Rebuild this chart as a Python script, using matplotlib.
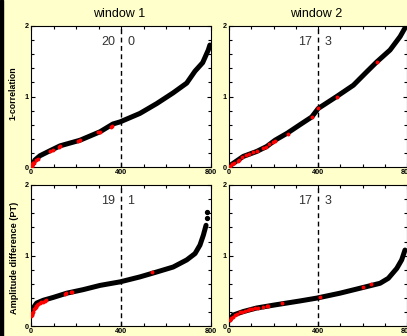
import matplotlib
matplotlib.use("Agg")
import matplotlib.pyplot as plt
from matplotlib.ticker import MultipleLocator
from matplotlib.patches import Rectangle

plt.rcParams['font.family'] = ['Liberation Sans', 'DejaVu Sans']

# curves: sample rank -> value
# window 1, 1-correlation
w1_corr_x = [3, 18, 40, 84, 129, 218, 307, 364, 396, 484, 559, 631, 692, 729, 763, 788, 795]
w1_corr_y = [0.02, 0.10, 0.16, 0.23, 0.30, 0.38, 0.50, 0.61, 0.64, 0.76, 0.90, 1.05, 1.19, 1.36, 1.48, 1.66, 1.73]
w1_corr_red_x = [1, 2, 3, 4, 6, 8, 10, 13, 24, 31, 83, 98, 123, 130, 209, 216, 298, 305, 354, 360]
w1_corr_red_y = [0.0, 0.01, 0.02, 0.03, 0.04, 0.05, 0.055, 0.06, 0.10, 0.11, 0.22, 0.24, 0.29, 0.30, 0.37, 0.38, 0.49, 0.50, 0.57, 0.58]

# window 2, 1-correlation
w2_corr_x = [4, 64, 124, 169, 207, 262, 319, 372, 401, 484, 559, 619, 664, 724, 769, 796]
w2_corr_y = [0.02, 0.15, 0.22, 0.29, 0.38, 0.48, 0.60, 0.71, 0.83, 1.00, 1.16, 1.35, 1.49, 1.66, 1.85, 2.0]
w2_corr_red_x = [4, 14, 24, 39, 45, 58, 76, 91, 106, 124, 151, 166, 181, 196, 208, 264, 372, 401, 484, 664]
w2_corr_red_y = [0.01, 0.04, 0.06, 0.09, 0.10, 0.14, 0.17, 0.19, 0.21, 0.23, 0.27, 0.29, 0.33, 0.35, 0.37, 0.47, 0.71, 0.83, 1.0, 1.49]

# window 1, amplitude difference
w1_amp_x = [3, 10, 25, 55, 99, 159, 232, 307, 396, 484, 559, 632, 692, 729, 751, 766, 778]
w1_amp_y = [0.16, 0.26, 0.33, 0.37, 0.41, 0.47, 0.52, 0.58, 0.63, 0.70, 0.77, 0.84, 0.94, 1.03, 1.15, 1.29, 1.43]
w1_amp_top_x = [781, 783]
w1_amp_top_y = [1.53, 1.62]
w1_amp_red_x = [2, 4, 6, 9, 12, 16, 20, 24, 28, 33, 39, 45, 53, 60, 68, 150, 157, 176, 182, 536]
w1_amp_red_y = [0.15, 0.16, 0.19, 0.21, 0.24, 0.26, 0.28, 0.29, 0.30, 0.32, 0.33, 0.34, 0.35, 0.36, 0.37, 0.46, 0.47, 0.48, 0.48, 0.765]

# window 2, amplitude difference
w2_amp_x = [4, 19, 64, 124, 199, 319, 394, 499, 589, 679, 716, 754, 776, 791]
w2_amp_y = [0.09, 0.16, 0.21, 0.26, 0.30, 0.36, 0.40, 0.47, 0.54, 0.61, 0.68, 0.82, 0.94, 1.08]
w2_amp_red_x = [4, 10, 19, 27, 34, 49, 60, 72, 85, 94, 105, 117, 132, 154, 169, 177, 237, 409, 604, 637]
w2_amp_red_y = [0.09, 0.12, 0.14, 0.16, 0.17, 0.20, 0.21, 0.22, 0.23, 0.24, 0.25, 0.26, 0.265, 0.28, 0.29, 0.29, 0.33, 0.41, 0.56, 0.595]

counts = [("20", "0"), ("17", "3"), ("19", "1"), ("17", "3")]
titles = ["window 1", "window 2"]
ylabels = ["1-correlation", "Amplitude difference (PT)"]

W, H = 407, 336
fig = plt.figure(figsize=(W / 100, H / 100), dpi=100)
fig.patch.set_facecolor('#ffffcc')
fig.patches.append(Rectangle((0, 0), 3 / W, 1, transform=fig.transFigure, color='black', zorder=10))

lefts = [31, 229]
widths = [180, 178]
tops = [26, 185]
heights = [141, 141.4]

panels = [
    (w1_corr_x, w1_corr_y, w1_corr_red_x, w1_corr_red_y),
    (w2_corr_x, w2_corr_y, w2_corr_red_x, w2_corr_red_y),
    (w1_amp_x, w1_amp_y, w1_amp_red_x, w1_amp_red_y),
    (w2_amp_x, w2_amp_y, w2_amp_red_x, w2_amp_red_y),
]

for i, (cx, cy, rx, ry) in enumerate(panels):
    row, col = i // 2, i % 2
    ax = fig.add_axes([lefts[col] / W, 1 - (tops[row] + heights[row]) / H,
                       widths[col] / W, heights[row] / H])
    ax.set_facecolor('white')
    ax.plot(cx, cy, color='black', lw=3.6, solid_capstyle='round', solid_joinstyle='round', zorder=2)
    if i == 2:
        ax.plot(w1_amp_top_x, w1_amp_top_y, 'o', color='black', ms=2.8, zorder=2)
    ax.plot(rx, ry, 'o', color='red', ms=2.8, mec='none', zorder=3)
    ax.axvline(400, color='black', ls=(0, (3.5, 2.5)), lw=1, zorder=1)
    ax.set_xlim(0, 800)
    ax.set_ylim(0, 2)
    ax.xaxis.set_major_locator(MultipleLocator(400))
    ax.xaxis.set_minor_locator(MultipleLocator(100))
    ax.yaxis.set_major_locator(MultipleLocator(1))
    ax.yaxis.set_minor_locator(MultipleLocator(0.2))
    ax.tick_params(which='both', direction='in', top=True, right=True, width=0.8)
    ax.tick_params(which='major', length=3, labelsize=5.2, pad=1.5)
    ax.tick_params(which='minor', length=2)
    for lab in ax.get_xticklabels() + ax.get_yticklabels():
        lab.set_fontweight('bold')
    for sp in ax.spines.values():
        sp.set_linewidth(0.8)
    ax.text(375, 1.77, counts[i][0], ha='right', va='center', fontsize=9, color='#333333')
    ax.text(428, 1.77, counts[i][1], ha='left', va='center', fontsize=9, color='#333333')

for col in range(2):
    fig.text((lefts[col] + widths[col] / 2 - 2) / W, 1 - 14 / H, titles[col],
             ha='center', va='center', fontsize=9)

fig.text(12.5 / W, 1 - 93 / H, ylabels[0], rotation=90, ha='center', va='center',
         fontsize=6.3, fontweight='bold')
fig.text(15 / W, 1 - 258 / H, ylabels[1], rotation=90, ha='center', va='center',
         fontsize=6.6, fontweight='bold')

fig.savefig("out.png", dpi=100, facecolor=fig.get_facecolor())
